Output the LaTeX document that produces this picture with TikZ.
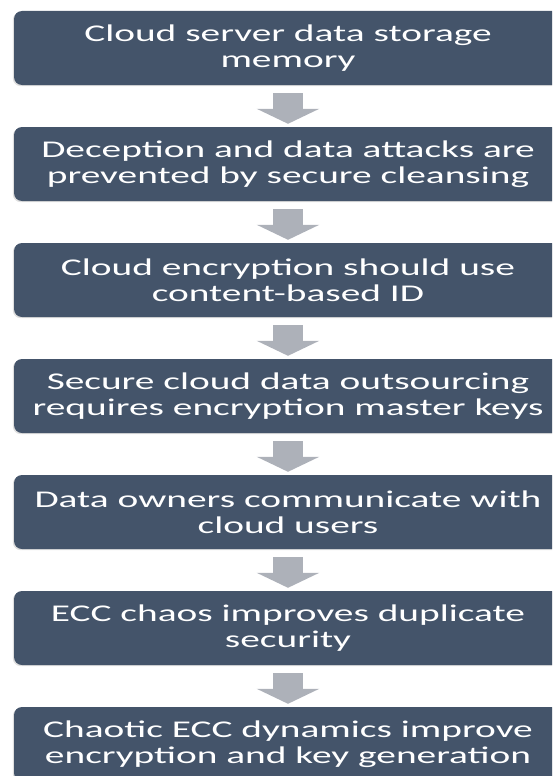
\documentclass[tikz,border=0pt]{standalone}
\usepackage{fontspec}
\setmainfont{Carlito}[FakeStretch=1.64]
\usepackage{tikz}
\usetikzlibrary{arrows.meta}
\usetikzlibrary{shadows}

\definecolor{slate}{HTML}{44546A}
\definecolor{arrowgray}{HTML}{ADB1B9}

\begin{document}
\begin{tikzpicture}[x=1pt,y=1pt]
    \tikzstyle{stage}      = [rectangle,rounded corners=8pt,fill=slate,text=white,
                              minimum width=548pt,minimum height=74pt,inner sep=0pt,
                              align=center,font=\fontsize{24}{26}\selectfont,
                              drop shadow={shadow xshift=-1.2pt,shadow yshift=-1.2pt,opacity=0.25}]
    \tikzstyle{flow arrow} = [draw=arrowgray,line width=30pt,
                              -{Triangle[width=62pt,length=15pt]},
                              shorten <=8pt,shorten >=3pt]

    \useasboundingbox (0,0) rectangle (552,-776);
    \clip (0,0) rectangle (552,-776);

    \node[stage] (s1) at (288,-48)  {Cloud server data storage\\memory};
    \node[stage] (s2) at (288,-164) {Deception and data attacks are\\prevented by secure cleansing};
    \node[stage] (s3) at (288,-280) {Cloud encryption should use\\content-based ID};
    \node[stage] (s4) at (288,-396) {Secure cloud data outsourcing\\requires encryption master keys};
    \node[stage] (s5) at (288,-512) {Data owners communicate with\\cloud users};
    \node[stage] (s6) at (288,-628) {ECC chaos improves duplicate\\security};
    \node[stage] (s7) at (288,-744) {Chaotic ECC dynamics improve\\encryption and key generation};

    \draw[flow arrow] (s1)--(s2);
    \draw[flow arrow] (s2)--(s3);
    \draw[flow arrow] (s3)--(s4);
    \draw[flow arrow] (s4)--(s5);
    \draw[flow arrow] (s5)--(s6);
    \draw[flow arrow] (s6)--(s7);
\end{tikzpicture}
\end{document}
